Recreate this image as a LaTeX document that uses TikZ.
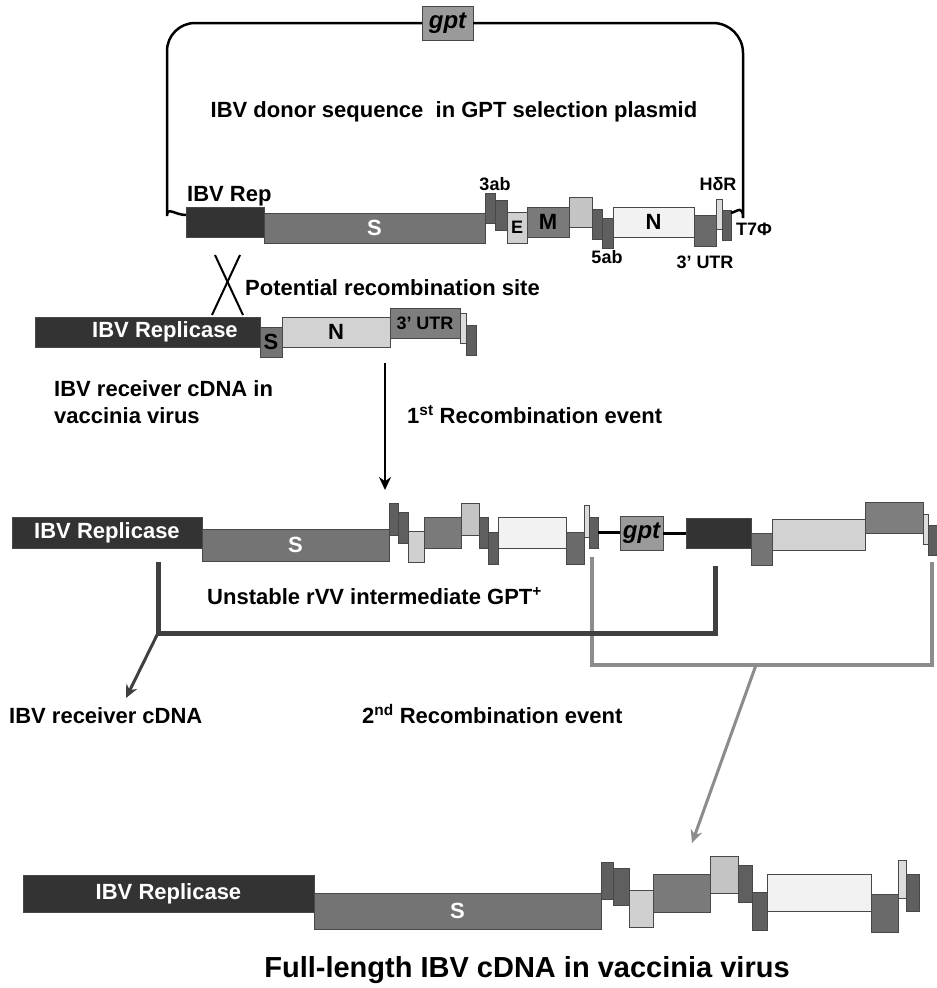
\documentclass[tikz,border=0pt]{standalone}
\usepackage{fontspec}
\setmainfont{Liberation Sans}
\usetikzlibrary{arrows.meta,calc}
\definecolor{cRep}{HTML}{333333}
\definecolor{cS}{HTML}{747474}
\definecolor{cSm}{HTML}{5F5F5F}
\definecolor{cE}{HTML}{D0D0D0}
\definecolor{cM}{HTML}{7A7A7A}
\definecolor{cL}{HTML}{C4C4C4}
\definecolor{cN}{HTML}{F2F2F2}
\definecolor{cU}{HTML}{6A6A6A}
\definecolor{cH}{HTML}{DCDCDC}
\definecolor{cRN}{HTML}{D2D2D2}
\definecolor{cRU}{HTML}{7E7E7E}
\definecolor{cGpt}{HTML}{9A9A9A}
\definecolor{outl}{HTML}{484848}
\definecolor{brd}{HTML}{404040}
\definecolor{brg}{HTML}{8C8C8C}
\begin{document}
\begin{tikzpicture}[x=1pt,y=-1pt,
  box/.style n args={4}{draw=outl, line width=0.6pt, inner sep=0pt, outer sep=0pt,
    anchor=north west, at={(#1,#2)}, minimum width=#3-#1, minimum height=#4-#2},
  f22/.style={font=\fontsize{22}{26}\selectfont\bfseries, inner sep=0pt},
  f18/.style={font=\fontsize{18}{21}\selectfont\bfseries, inner sep=0pt},
  fgpt/.style={font=\fontsize{24}{28}\selectfont\bfseries\itshape},
  wtxt/.style={text=white},
  loopline/.style={line width=2.5pt, black},
  blackarrow/.style={line width=2.5pt, black, -{Stealth[length=13pt,width=12pt]}},
  darkbr/.style={line width=5pt, brd},
  graybr/.style={line width=4pt, brg},
  darkarr/.style={line width=3pt, brd, -{Stealth[length=13pt,width=12pt]}},
  grayarr/.style={line width=3pt, brg, -{Stealth[length=13pt,width=12pt]}},
  xline/.style={line width=2pt, black},
  gline/.style={line width=3pt, black}]
\useasboundingbox (0,0) rectangle (937,988);
\fill[white] (0,0) rectangle (937,988);

% ---------- top plasmid ----------
\node[box={422}{6}{473}{40}, fill=cGpt, fgpt] (gptT) {gpt};
\node[box={186}{207}{264}{237}, fill=cRep] (repT) {};
\node[box={264}{213}{485}{243}, fill=cS, f22, wtxt] (sT) {S};
\node[box={485}{193}{495}{223}, fill=cSm] (ab3aT) {};
\node[box={495}{200}{507}{230}, fill=cSm] (ab3bT) {};
\node[box={507}{212}{527}{243}, fill=cE, f18] (eT) {E};
\node[box={527}{207}{569}{237}, fill=cM, f22] (mT) {M};
\node[box={569}{197}{592}{227}, fill=cL] (lT) {};
\node[box={592}{209}{602}{239}, fill=cSm] (ab5aT) {};
\node[box={602}{218}{613}{248}, fill=cSm] (ab5bT) {};
\node[box={613}{207}{694}{237}, fill=cN, f22] (nT) {N};
\node[box={694}{215}{716}{246}, fill=cU] (uT) {};
\node[box={716}{199}{722}{229}, fill=cH] (hT) {};
\node[box={722}{210}{731}{240}, fill=cSm] (t7T) {};

\draw[loopline, rounded corners=28pt] (gptT.west) -- (167,23) -- (167,188) [sharp corners]
  .. controls (167,206) and (175,215) .. ($(repT.north west)+(0,8)$);
\draw[loopline, rounded corners=30pt] (gptT.east) -- (743,23) -- (743,188) [sharp corners]
  .. controls (743,205) and (738,211) .. ($(t7T.north east)+(0,3)$);

\node[f22, anchor=base] (donor) at (454,117) {IBV donor sequence\ \ in GPT selection plasmid};
\node[f22, anchor=base west] (repTlab) at (187,201) {IBV Rep};
\node[f18, anchor=base] (l3ab) at (495,190) {3ab};
\node[f18, anchor=base] (lhdr) at (718,190) {Hδ{}R};
\node[f18, anchor=base west] (lt7) at (736,235) {T7Φ};
\node[f18, anchor=base] (l5ab) at (607,263) {5ab};
\node[f18, anchor=base] (lutr) at (705,268) {3’ UTR};

% ---------- crossover mark ----------
\coordinate (xa1) at (215,255);
\coordinate (xa2) at (243,315);
\coordinate (xb1) at (240,255);
\coordinate (xb2) at (212,315);
\draw[xline] (xa1) -- (xa2);
\draw[xline] (xb1) -- (xb2);
\node[f22, anchor=base west] (pot) at (245,295) {Potential recombination site};

% ---------- receiver ----------
\node[box={35}{317}{260}{347}, fill=cRep] (repR) {};
\node[f22, wtxt] (repRlab) at (165,332) {IBV Replicase};
\node[box={260}{327}{282}{357}, fill=cS, f22] (sR) {S};
\node[box={282}{317}{390}{347}, fill=cRN, f22] (nR) {N};
\node[box={390}{308}{460}{338}, fill=cRU, f18] (uR) {3’ UTR};
\node[box={460}{313}{466}{343}, fill=cH] (hR) {};
\node[box={466}{325}{476}{355}, fill=cSm] (t7R) {};

\node[f22, anchor=base west] (rec1) at (54,396) {IBV receiver cDNA in};
\node[f22, anchor=base west] (rec2) at (54,423) {vaccinia virus};

\coordinate (ar1) at (385,363);
\coordinate (ar2) at (385,490);
\draw[blackarrow] (ar1) -- (ar2);
\node[f22, anchor=base west] (ev1) at (407,423) {1\textsuperscript{st} Recombination event};

% ---------- intermediate ----------
\node[box={12}{517}{202}{548}, fill=cRep, f22, wtxt] (repI) {IBV Replicase};
\node[box={202}{529}{389}{561}, fill=cS, f22, wtxt] (sI) {S};
\node[box={389}{503}{398}{535}, fill=cSm] (ab3aI) {};
\node[box={398}{512}{408}{543}, fill=cSm] (ab3bI) {};
\node[box={408}{531}{424}{562}, fill=cE] (eI) {};
\node[box={424}{517}{461}{548}, fill=cM] (mI) {};
\node[box={461}{503}{479}{535}, fill=cL] (lI) {};
\node[box={479}{517}{488}{548}, fill=cSm] (ab5aI) {};
\node[box={488}{532}{498}{564}, fill=cSm] (ab5bI) {};
\node[box={498}{517}{566}{548}, fill=cN] (nI) {};
\node[box={566}{532}{584}{564}, fill=cU] (uI) {};
\node[box={584}{505}{589}{537}, fill=cH] (hI) {};
\node[box={589}{517}{598}{548}, fill=cSm] (t7I) {};
\node[box={620}{516}{663}{550}, fill=cGpt, fgpt] (gptI) {gpt};
\node[box={686}{518}{751}{548}, fill=cRep] (rep2I) {};
\node[box={751}{533}{772}{565}, fill=cS] (s2I) {};
\node[box={772}{519}{865}{550}, fill=cRN] (n2I) {};
\node[box={865}{502}{923}{533}, fill=cRU] (u2I) {};
\node[box={923}{514}{928}{544}, fill=cH] (h2I) {};
\node[box={928}{525}{942}{555}, fill=cSm] (t72I) {};
\draw[gline] (t7I.east) -- (t7I.east -| gptI.west);
\draw[gline] (gptI.east) -- (gptI.east -| rep2I.west);

\node[f22, anchor=base west] (unst) at (207,604) {Unstable rVV intermediate GPT\textsuperscript{+}};

% ---------- brackets ----------
\coordinate (gb1) at (592,557);
\coordinate (gb2) at (592,665);
\coordinate (gb3) at (932,665);
\coordinate (gb4) at (932,562);
\coordinate (gmid) at (756,665);
\coordinate (gtip) at (692,843);
\draw[graybr] (gb1) -- (gb2) -- (gb3) -- (gb4);
\draw[grayarr] (gmid) -- (gtip);

\coordinate (db1) at (158,562);
\coordinate (db2) at (158,633);
\coordinate (db3) at (715,633);
\coordinate (db4) at (715,566);
\coordinate (dtip) at (126,698);
\draw[darkbr] (db1) -- (db2) -- (db3) -- (db4);
\draw[darkarr] (db2) -- (dtip);

\node[f22, anchor=base west] (recv) at (9,723) {IBV receiver cDNA};
\node[f22, anchor=base west] (ev2) at (362,723) {2\textsuperscript{nd} Recombination event};

% ---------- bottom full length ----------
\node[box={23}{875}{314}{912}, fill=cRep, f22, wtxt] (repB) {IBV Replicase};
\node[box={314}{893}{601}{929}, fill=cS, f22, wtxt] (sB) {S};
\node[box={601}{862}{613}{899}, fill=cSm] (ab3aB) {};
\node[box={613}{868}{629}{905}, fill=cSm] (ab3bB) {};
\node[box={629}{890}{653}{927}, fill=cE] (eB) {};
\node[box={653}{874}{710}{912}, fill=cM] (mB) {};
\node[box={710}{856}{738}{893}, fill=cL] (lB) {};
\node[box={738}{865}{752}{902}, fill=cSm] (ab5aB) {};
\node[box={752}{892}{767}{930}, fill=cSm] (ab5bB) {};
\node[box={767}{874}{871}{911}, fill=cN] (nB) {};
\node[box={871}{894}{898}{932}, fill=cU] (uB) {};
\node[box={898}{860}{906}{898}, fill=cH] (hB) {};
\node[box={906}{874}{919}{911}, fill=cSm] (t7B) {};

\node[font=\fontsize{29}{34}\selectfont\bfseries, anchor=base, inner sep=0pt] (title) at (527,977) {Full-length IBV cDNA in vaccinia virus};
\end{tikzpicture}
\end{document}
